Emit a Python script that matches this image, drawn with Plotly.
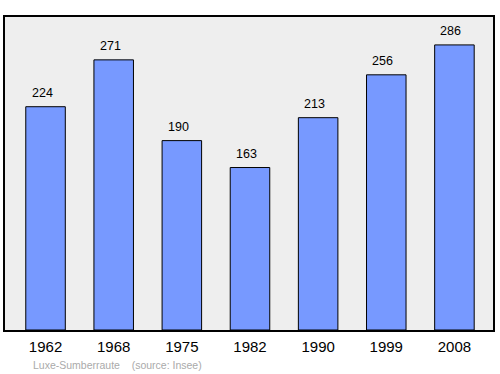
import plotly.graph_objects as go

years = ["1962", "1968", "1975", "1982", "1990", "1999", "2008"]
population = [224, 271, 190, 163, 213, 256, 286]
caption = "Luxe-Sumberraute    (source: Insee)"

FONT = "Liberation Sans, Arial"

fig = go.Figure()
fig.add_trace(go.Bar(
    x=years, y=population,
    marker=dict(color="#7799ff", line=dict(color="black", width=1)),
    hoverinfo="skip",
))
for i, v in enumerate(population):
    fig.add_annotation(x=i, y=v, xref="x", yref="y", text=str(v), showarrow=False,
                       xanchor="center", yanchor="middle", xshift=-3.5, yshift=14,
                       font=dict(family=FONT, size=12.5, color="black"))
fig.add_annotation(x=(31 - 5) / 490, y=(330 - 365) / 313, xref="paper", yref="paper",
                   text=caption, showarrow=False, xanchor="left", yanchor="middle",
                   font=dict(family=FONT, size=10.5, color="#aaaaaa"))

fig.update_layout(
    width=500, height=374,
    margin=dict(l=5, r=5, t=17, b=44),
    paper_bgcolor="white", plot_bgcolor="#eeeeee",
    showlegend=False, bargap=0.42,
    font=dict(family=FONT, size=15, color="black"),
)
fig.update_xaxes(type="category", categoryorder="array", categoryarray=years,
                 range=[-0.595, 6.566], showline=True, linecolor="black",
                 linewidth=1.5, mirror=True, showgrid=False, ticks="",
                 ticklabelstandoff=2,
                 tickfont=dict(size=15), automargin=False)
fig.update_yaxes(range=[0, 314], showline=True, linecolor="black", linewidth=1.5, mirror=True,
                 showgrid=False, showticklabels=False, ticks="", zeroline=False)

fig.write_html("out.html")
